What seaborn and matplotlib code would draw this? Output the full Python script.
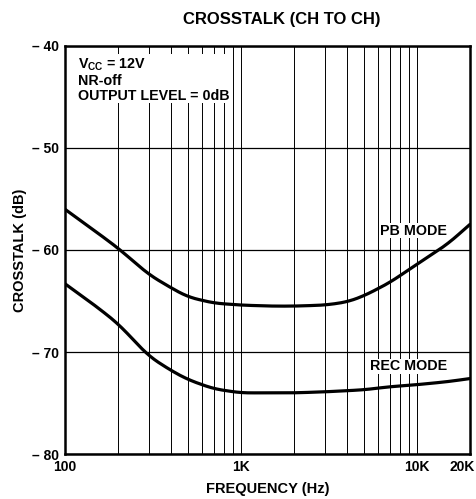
import matplotlib
matplotlib.use("Agg")
import matplotlib.pyplot as plt
import matplotlib.transforms as mtrans
import seaborn as sns
import pandas as pd
import numpy as np

freq_pb = [100, 150, 200, 300, 400, 500, 700, 1000, 1500, 2000, 3000, 4000, 5000, 7000, 10000, 15000, 20000]
pb_mode = [-56.0, -58.2, -59.8, -62.4, -63.7, -64.6, -65.2, -65.4, -65.5, -65.5, -65.4, -65.1, -64.5, -63.2, -61.4, -59.4, -57.5]
freq_rec = [100, 150, 200, 300, 400, 500, 700, 1000, 1500, 2000, 3000, 5000, 7000, 10000, 15000, 20000]
rec_mode = [-63.3, -65.5, -67.2, -70.4, -71.8, -72.7, -73.6, -74.0, -74.0, -74.0, -73.9, -73.7, -73.4, -73.2, -72.9, -72.6]

x_ticks = [100, 1000, 10000, 20000]
x_tick_labels = ["100", "1K", "10K", "20K"]
y_ticks = [-80, -70, -60, -50, -40]
y_tick_labels = ["\u2013 80", "\u2013 70", "\u2013 60", "\u2013 50", "\u2013 40"]

df = pd.concat([
    pd.DataFrame({"freq": freq_pb, "crosstalk": pb_mode, "mode": "PB MODE"}),
    pd.DataFrame({"freq": freq_rec, "crosstalk": rec_mode, "mode": "REC MODE"}),
])

sns.set_style("white")
plt.rcParams["font.family"] = ["Liberation Sans", "DejaVu Sans"]
plt.rcParams["font.weight"] = "bold"
for key in ["text.color", "axes.labelcolor", "xtick.color", "ytick.color", "axes.edgecolor"]:
    plt.rcParams[key] = "black"

fig = plt.figure(figsize=(4.77, 4.99), dpi=100)
ax = fig.add_axes([0.136, 0.090, 0.849, 0.818])

# smooth curves in log-frequency
for mode, sub in df.groupby("mode"):
    lx = np.log10(sub["freq"].values)
    fine = np.linspace(lx.min(), lx.max(), 300)
    yy = np.interp(fine, lx, sub["crosstalk"].values)
    k = 7
    pad = np.pad(yy, k, mode="reflect", reflect_type="odd")
    yy_s = np.convolve(pad, np.ones(2 * k + 1) / (2 * k + 1), mode="valid")
    smooth = pd.DataFrame({"freq": 10 ** fine, "crosstalk": yy_s})
    sns.lineplot(data=smooth, x="freq", y="crosstalk", ax=ax, color="black",
                 linewidth=2.3, estimator=None, sort=False)

ax.set_xscale("log")
ax.set_xlim(100, 20000)
ax.set_ylim(-80, -40)

# grid
minor = [m * d for d in [100, 1000] for m in range(1, 10)] + [10000]
for f in minor:
    ax.axvline(f, color="black", linewidth=0.7, zorder=0)
for yv in y_ticks:
    ax.axhline(yv, color="black", linewidth=0.9, zorder=0)

ax.set_xticks(x_ticks)
ax.set_xticklabels(x_tick_labels, fontsize=10, fontweight="bold", color="black")
ax.xaxis.set_minor_locator(matplotlib.ticker.NullLocator())
ax.set_yticks(y_ticks)
ax.set_yticklabels(y_tick_labels, fontsize=10, fontweight="bold", color="black")
ax.tick_params(axis="both", length=0, pad=4)
last = ax.get_xticklabels()[-1]
last.set_transform(last.get_transform() + mtrans.ScaledTranslation(-0.08, 0, fig.dpi_scale_trans))

for s in ax.spines.values():
    s.set_linewidth(1.8)
    s.set_color("black")

ax.set_xlabel("FREQUENCY (Hz)", fontsize=10.5, fontweight="bold", labelpad=6, color="black")
ax.set_ylabel("CROSSTALK (dB)", fontsize=10.5, fontweight="bold", labelpad=4, color="black")
fig.text(0.59, 0.960, "CROSSTALK (CH TO CH)", ha="center", va="center",
         fontsize=12, fontweight="bold", color="black")

ax.text(118, -41.0, "V$_{\\mathregular{CC}}$ = 12V\nNR-off\nOUTPUT LEVEL = 0dB",
        ha="left", va="top", fontsize=10.3, fontweight="bold", linespacing=1.1, color="black",
        bbox=dict(facecolor="white", edgecolor="none", pad=0.5))
ax.text(6150, -58.1, "PB MODE", ha="left", va="center", fontsize=10.3, color="black",
        fontweight="bold", bbox=dict(facecolor="white", edgecolor="none", pad=0.3))
ax.text(5390, -71.4, "REC MODE", ha="left", va="center", fontsize=10.3, color="black",
        fontweight="bold", bbox=dict(facecolor="white", edgecolor="none", pad=0.3))

ax.set_facecolor("white")
fig.savefig("out.png", dpi=100, facecolor="white")
